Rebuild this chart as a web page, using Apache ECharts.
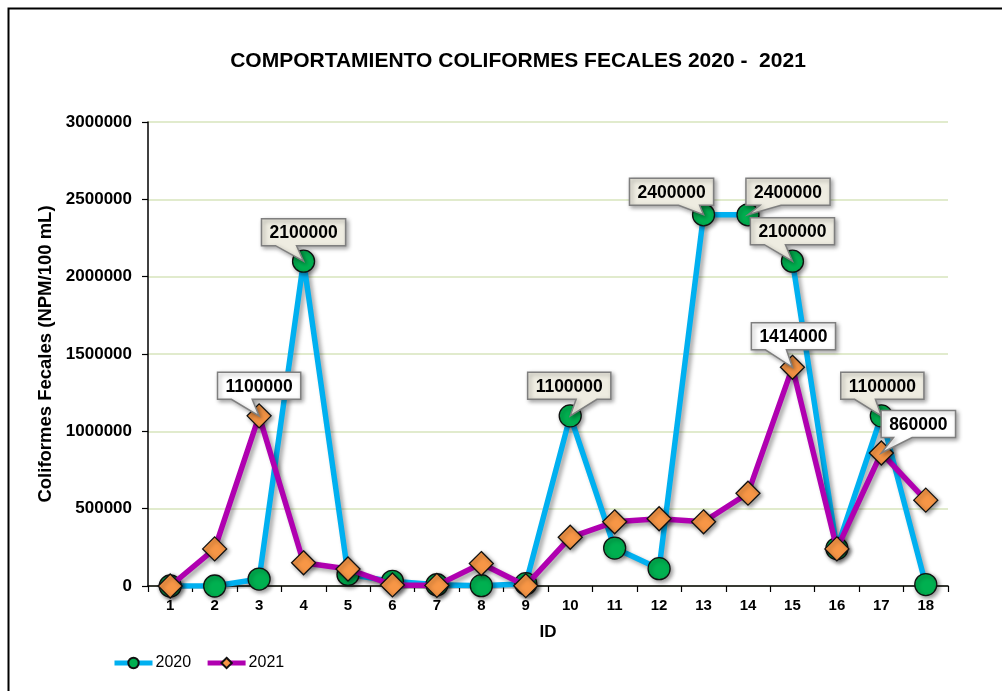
<!DOCTYPE html>
<html>
<head>
<meta charset="utf-8">
<script src="https://cdn.jsdelivr.net/npm/echarts@6/dist/echarts.min.js"></script>
<style>
html,body{margin:0;padding:0;background:#fff;}
#chart{width:1002px;height:691px;}
</style>
</head>
<body>
<div id="chart"></div>
<script>
const ids = ['1','2','3','4','5','6','7','8','9','10','11','12','13','14','15','16','17','18'];
const values2020 = [0, 0, 45000, 2100000, 75000, 30000, 8000, 2000, 15000, 1100000, 245000, 112000, 2400000, 2400000, 2100000, 242000, 1100000, 9000];
const values2021 = [0, 240000, 1100000, 150000, 110000, 7000, 4000, 145000, 2000, 315000, 415000, 435000, 415000, 600000, 1414000, 240000, 860000, 555000];
const yTicks = [0, 500000, 1000000, 1500000, 2000000, 2500000, 3000000];
const labeled2020 = ['4','10','13','14','15','17'];
const labeled2021 = ['3','15','17'];

// callout box placement relative to point (layout only)
const calloutLayout = {
  '2020-4': [0, -29], '2020-10': [-1, -30], '2020-13': [-32, -23], '2020-14': [40, -23],
  '2020-15': [0, -30], '2020-17': [1, -30],
  '2021-3': [0, -30], '2021-15': [1, -31], '2021-17': [37, -29]
};

const FONT = 'bold 17.5px "Liberation Sans", Arial, sans-serif';
const mctx = document.createElement('canvas').getContext('2d');
mctx.font = FONT;

const callouts = [];
labeled2020.forEach(id => { const i = ids.indexOf(id); callouts.push({year:'2020', id, idx:i, value: values2020[i], fill:'#eeece1'}); });
labeled2021.forEach(id => { const i = ids.indexOf(id); callouts.push({year:'2021', id, idx:i, value: values2021[i], fill:'#ffffff'}); });

function calloutPoints(l, t, w, h, tx, ty) {
  const hc = w / 2, vc = h / 2;
  const rx = tx - l, ry = ty - t;
  const dxPos = rx - hc, dyPos = ry - vc;
  const dq = dxPos * h / w;
  const dz = Math.abs(dyPos) - Math.abs(dq);
  const x1 = w * (dxPos > 0 ? 7 : 2) / 12, x2 = w * (dxPos > 0 ? 10 : 5) / 12;
  const y1 = h * (dyPos > 0 ? 7 : 2) / 12, y2 = h * (dyPos > 0 ? 10 : 5) / 12;
  let pts;
  if (dz > 0) {
    if (dyPos < 0) pts = [[0,0],[x1,0],[rx,ry],[x2,0],[w,0],[w,h],[0,h]];
    else pts = [[0,0],[w,0],[w,h],[x2,h],[rx,ry],[x1,h],[0,h]];
  } else {
    if (dxPos < 0) pts = [[0,0],[w,0],[w,h],[0,h],[0,y2],[rx,ry],[0,y1]];
    else pts = [[0,0],[w,0],[w,y1],[rx,ry],[w,y2],[w,h],[0,h]];
  }
  return pts.map(p => [p[0] + l, p[1] + t]);
}

function renderCallout(params, api) {
  const c = callouts[params.dataIndex];
  const pt = api.coord([api.value(0), api.value(1)]);
  const off = calloutLayout[c.year + '-' + c.id] || [0, -30];
  const text = String(c.value);
  const tw = mctx.measureText(text).width;
  const w = tw + 16, h = 27;
  const cx = pt[0] + off[0], cy = pt[1] + off[1];
  const l = cx - w / 2, t = cy - h / 2;
  return {
    type: 'group',
    children: [
      { type: 'polygon', shape: { points: calloutPoints(l, t, w, h, pt[0], pt[1]) },
        style: { fill: c.fill, stroke: '#7f7f7f', lineWidth: 1.5,
                 shadowBlur: 4, shadowColor: 'rgba(0,0,0,0.35)', shadowOffsetX: 2, shadowOffsetY: 2 } },
      { type: 'text', style: { x: cx, y: cy + 1, text: text, font: FONT, fill: '#000',
                 align: 'center', verticalAlign: 'middle' } }
    ]
  };
}

const chart = echarts.init(document.getElementById('chart'), null, {renderer: 'canvas'});
const lineShadow = { shadowBlur: 4, shadowColor: 'rgba(0,0,0,0.35)', shadowOffsetX: 3, shadowOffsetY: 3 };
const markShadow = { shadowBlur: 4, shadowColor: 'rgba(0,0,0,0.4)', shadowOffsetX: 2, shadowOffsetY: 2 };

chart.setOption({
  animation: false,
  backgroundColor: '#ffffff',
  graphic: [{ type: 'rect', left: 6, top: 6, shape: { x: 0, y: 0, width: 1100, height: 800 },
    style: { fill: 'none', stroke: '#000', lineWidth: 2 }, z: -1 }],
  title: {
    text: 'COMPORTAMIENTO COLIFORMES FECALES 2020 -  2021',
    left: 513, textAlign: 'center', top: 46,
    textStyle: { fontFamily: '"Liberation Sans", Arial, sans-serif', fontWeight: 'bold', fontSize: 21, color: '#000' }
  },
  legend: {
    data: ['2020', '2021'], left: 107, top: 650, itemWidth: 38, itemHeight: 13, itemGap: 14,
    lineStyle: { width: 5 },
    textStyle: { fontFamily: '"Liberation Sans", Arial, sans-serif', fontSize: 16, color: '#000', padding: [0,0,0,-2] }
  },
  grid: { left: 148, right: 54, top: 122, bottom: 105 },
  xAxis: {
    type: 'category', data: ids, boundaryGap: true,
    name: 'ID', nameLocation: 'middle', nameGap: 38,
    nameTextStyle: { fontFamily: '"Liberation Sans", Arial, sans-serif', fontWeight: 'bold', fontSize: 17, color: '#000' },
    axisLine: { lineStyle: { color: '#000', width: 1.5 } },
    axisTick: { show: true, inside: false, length: 6, alignWithLabel: false, lineStyle: { color: '#000', width: 1.2 } },
    axisLabel: { margin: 12, fontFamily: '"Liberation Sans Narrow", "Liberation Sans", Arial, sans-serif', fontWeight: 'bold', fontSize: 15, color: '#000' },
    splitLine: { show: false }
  },
  yAxis: {
    type: 'value', min: 0, max: 3000000, interval: 500000,
    name: 'Coliformes Fecales (NPM/100 mL)', nameLocation: 'middle', nameGap: 84,
    nameTextStyle: { fontFamily: '"Liberation Sans", Arial, sans-serif', fontWeight: 'bold', fontSize: 18.5, color: '#000' },
    axisLine: { show: true, lineStyle: { color: '#000', width: 1.5 } },
    axisTick: { show: true, inside: false, length: 6, lineStyle: { color: '#000', width: 1.2 } },
    axisLabel: { margin: 16, fontFamily: '"Liberation Sans", Arial, sans-serif', fontWeight: 'bold', fontSize: 17, color: '#000',
      formatter: v => yTicks.indexOf(v) >= 0 ? String(v) : '' },
    splitLine: { show: true, lineStyle: { color: '#d7e4bd', width: 1.5 } }
  },
  series: [
    { name: '2020', type: 'line', data: values2020, z: 2,
      symbol: 'circle', symbolSize: 22,
      lineStyle: Object.assign({ color: '#00b0f0', width: 5.5 }, lineShadow),
      itemStyle: Object.assign({ color: '#00b050', borderColor: '#111', borderWidth: 1.3 }, markShadow) },
    { name: '2021', type: 'line', data: values2021, z: 3,
      symbol: 'diamond', symbolSize: 24,
      lineStyle: Object.assign({ color: '#b000b0', width: 5.5 }, lineShadow),
      itemStyle: Object.assign({ color: '#f79646', borderColor: '#111', borderWidth: 1.3 }, markShadow) },
    { name: 'callouts', type: 'custom', z: 10, clip: false, silent: true,
      renderItem: renderCallout, encode: { x: 0, y: 1 },
      data: callouts.map(c => [c.idx, c.value]) }
  ]
});
</script>
</body>
</html>
